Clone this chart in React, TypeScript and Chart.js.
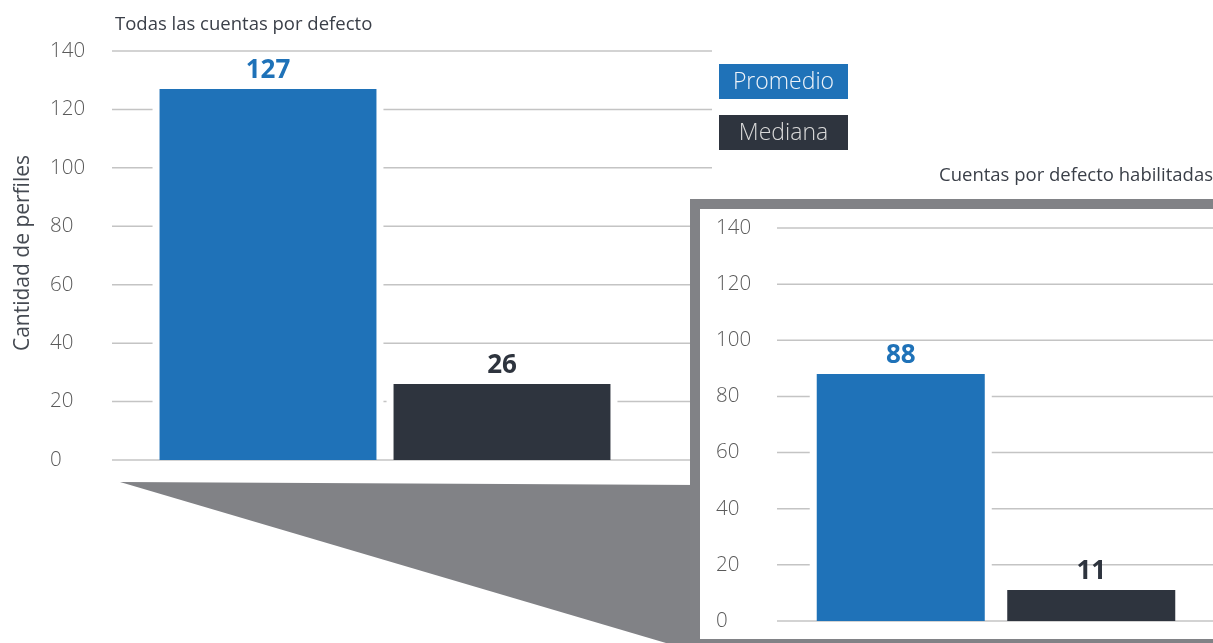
import React, { useEffect, useRef } from "react";
import { Chart, registerables } from "chart.js";

Chart.register(...registerables);

// ---------- data ----------
const seriesNames = ["Promedio", "Mediana"];
const mainCategories = ["Todas las cuentas por defecto"];
const mainPromedio = [127];
const mainMediana = [26];
const insetCategories = ["Cuentas por defecto habilitadas"];
const insetPromedio = [88];
const insetMediana = [11];
const yTickValues = [0, 20, 40, 60, 80, 100, 120, 140];
const yAxisTitle = "Cantidad de perfiles";

// ---------- style ----------
const BLUE = "#1f72b8";
const DARK = "#2e343e";
const GRID = "#c4c4c4";
const FRAME = "#818286";
const TEXT = "#3a3f48";
const TICK = "#5a5a5a";
const FONT = "'Open Sans', 'Noto Sans', sans-serif";
const W = 1213;
const H = 643;
const INSET = { left: 700, top: 209, width: 513, height: 430 };

type DecorCfg = {
  gridFrom: number;
  gridTo: number;
  gap: number;
  extra?: (chart: any) => void;
};

function makeDecor(cfg: DecorCfg) {
  return {
    id: "decor",
    beforeDatasetsDraw(chart: any) {
      const ctx = chart.ctx;
      const y = chart.scales.y;
      ctx.save();
      ctx.strokeStyle = GRID;
      ctx.lineWidth = 1.5;
      y.ticks.forEach((t: any) => {
        const py = y.getPixelForValue(t.value);
        ctx.beginPath();
        ctx.moveTo(cfg.gridFrom, py);
        ctx.lineTo(cfg.gridTo, py);
        ctx.stroke();
      });
      ctx.fillStyle = "#ffffff";
      chart.data.datasets.forEach((_ds: any, i: number) => {
        chart.getDatasetMeta(i).data.forEach((bar: any) => {
          const p = bar.getProps(["x", "y", "base", "width"], true);
          ctx.fillRect(
            p.x - p.width / 2 - cfg.gap,
            p.y - 1,
            p.width + 2 * cfg.gap,
            p.base - p.y - 1.5
          );
        });
      });
      ctx.restore();
    },
    afterDatasetsDraw(chart: any) {
      const ctx = chart.ctx;
      ctx.save();
      ctx.font = `700 26px ${FONT}`;
      ctx.textAlign = "center";
      ctx.textBaseline = "alphabetic";
      chart.data.datasets.forEach((ds: any, i: number) => {
        chart.getDatasetMeta(i).data.forEach((bar: any, j: number) => {
          const p = bar.getProps(["x", "y"], true);
          ctx.fillStyle = ds.backgroundColor;
          ctx.fillText(String(ds.data[j]), p.x, p.y - 11);
        });
      });
      ctx.restore();
    },
    afterDraw(chart: any) {
      if (cfg.extra) cfg.extra(chart);
    },
  };
}

function mainExtra(chart: any) {
  const ctx = chart.ctx;
  ctx.save();
  // connector polygon
  ctx.fillStyle = FRAME;
  ctx.beginPath();
  ctx.moveTo(120, 482);
  ctx.lineTo(700, 485);
  ctx.lineTo(700, H);
  ctx.lineTo(666, H);
  ctx.closePath();
  ctx.fill();
  // titles
  ctx.fillStyle = TEXT;
  ctx.font = `400 18.5px ${FONT}`;
  ctx.textBaseline = "alphabetic";
  ctx.textAlign = "left";
  ctx.fillText(mainCategories[0], 115, 30);
  ctx.textAlign = "right";
  ctx.fillText(insetCategories[0], 1213, 181);
  // y axis title
  ctx.save();
  ctx.translate(23, 253);
  ctx.rotate(-Math.PI / 2);
  ctx.textAlign = "center";
  ctx.textBaseline = "middle";
  ctx.font = `400 21px ${FONT}`;
  ctx.fillStyle = "#454a52";
  ctx.fillText(yAxisTitle, 0, 0);
  ctx.restore();
  // legend
  chart.data.datasets.forEach((ds: any, i: number) => {
    const bx = 719;
    const by = 64 + i * 51;
    ctx.fillStyle = ds.backgroundColor;
    ctx.fillRect(bx, by, 129, 35);
    ctx.fillStyle = i === 0 ? "#eef3f9" : "#d9d9d9";
    ctx.font = `300 23px ${FONT}`;
    ctx.textAlign = "center";
    ctx.textBaseline = "middle";
    ctx.fillText(ds.label, bx + 64.5, by + 18);
  });
  ctx.restore();
}

function baseOptions(pad: any, axisWidth: number, barPct: number) {
  return {
    responsive: false,
    maintainAspectRatio: false,
    animation: false as const,
    devicePixelRatio: 1,
    layout: { padding: pad },
    plugins: {
      legend: { display: false },
      title: { display: false },
      tooltip: { enabled: false },
    },
    datasets: { bar: { categoryPercentage: 1, barPercentage: barPct } },
    scales: {
      x: { display: false },
      y: {
        min: 0,
        max: 140,
        border: { display: false },
        grid: { display: false, drawTicks: false },
        afterBuildTicks: (s: any) => {
          s.ticks = yTickValues.map((v) => ({ value: v }));
        },
        afterFit: (s: any) => {
          s.width = axisWidth;
        },
        ticks: {
          crossAlign: "far" as const,
          padding: 0,
          color: TICK,
          font: { family: FONT, size: 20.5, weight: 300 as any },
        },
      },
    },
  };
}

export default function App() {
  const mainRef = useRef<HTMLCanvasElement | null>(null);
  const insetRef = useRef<HTMLCanvasElement | null>(null);

  useEffect(() => {
    const main = new Chart(mainRef.current as HTMLCanvasElement, {
      type: "bar",
      data: {
        labels: mainCategories,
        datasets: [
          { label: seriesNames[0], data: mainPromedio, backgroundColor: BLUE },
          { label: seriesNames[1], data: mainMediana, backgroundColor: DARK },
        ],
      },
      options: baseOptions(
        { left: 50, right: W - 619, top: 51, bottom: H - 460 },
        101,
        0.927
      ) as any,
      plugins: [makeDecor({ gridFrom: 112, gridTo: 712, gap: 7, extra: mainExtra })],
    });
    const inset = new Chart(insetRef.current as HTMLCanvasElement, {
      type: "bar",
      data: {
        labels: insetCategories,
        datasets: [
          { label: seriesNames[0], data: insetPromedio, backgroundColor: BLUE },
          { label: seriesNames[1], data: insetMediana, backgroundColor: DARK },
        ],
      },
      options: baseOptions(
        { left: 16, right: 26.5, top: 228 - INSET.top, bottom: INSET.height - (621 - INSET.top) },
        89.5,
        0.882
      ) as any,
      plugins: [makeDecor({ gridFrom: 77, gridTo: INSET.width, gap: 7 })],
    });
    return () => {
      main.destroy();
      inset.destroy();
    };
  }, []);

  return (
    <div
      style={{
        position: "fixed",
        left: 0,
        top: 0,
        width: W,
        height: H,
        background: "#ffffff",
        overflow: "hidden",
      }}
    >
      <canvas
        ref={mainRef}
        width={W}
        height={H}
        style={{ position: "absolute", left: 0, top: 0, width: W, height: H }}
      />
      <div
        style={{
          position: "absolute",
          left: INSET.left - 10,
          top: INSET.top - 10,
          width: INSET.width + 20,
          height: INSET.height,
          border: `10px solid ${FRAME}`,
          background: "#ffffff",
        }}
      />
      <canvas
        ref={insetRef}
        width={INSET.width}
        height={INSET.height}
        style={{
          position: "absolute",
          left: INSET.left,
          top: INSET.top,
          width: INSET.width,
          height: INSET.height,
        }}
      />
    </div>
  );
}
